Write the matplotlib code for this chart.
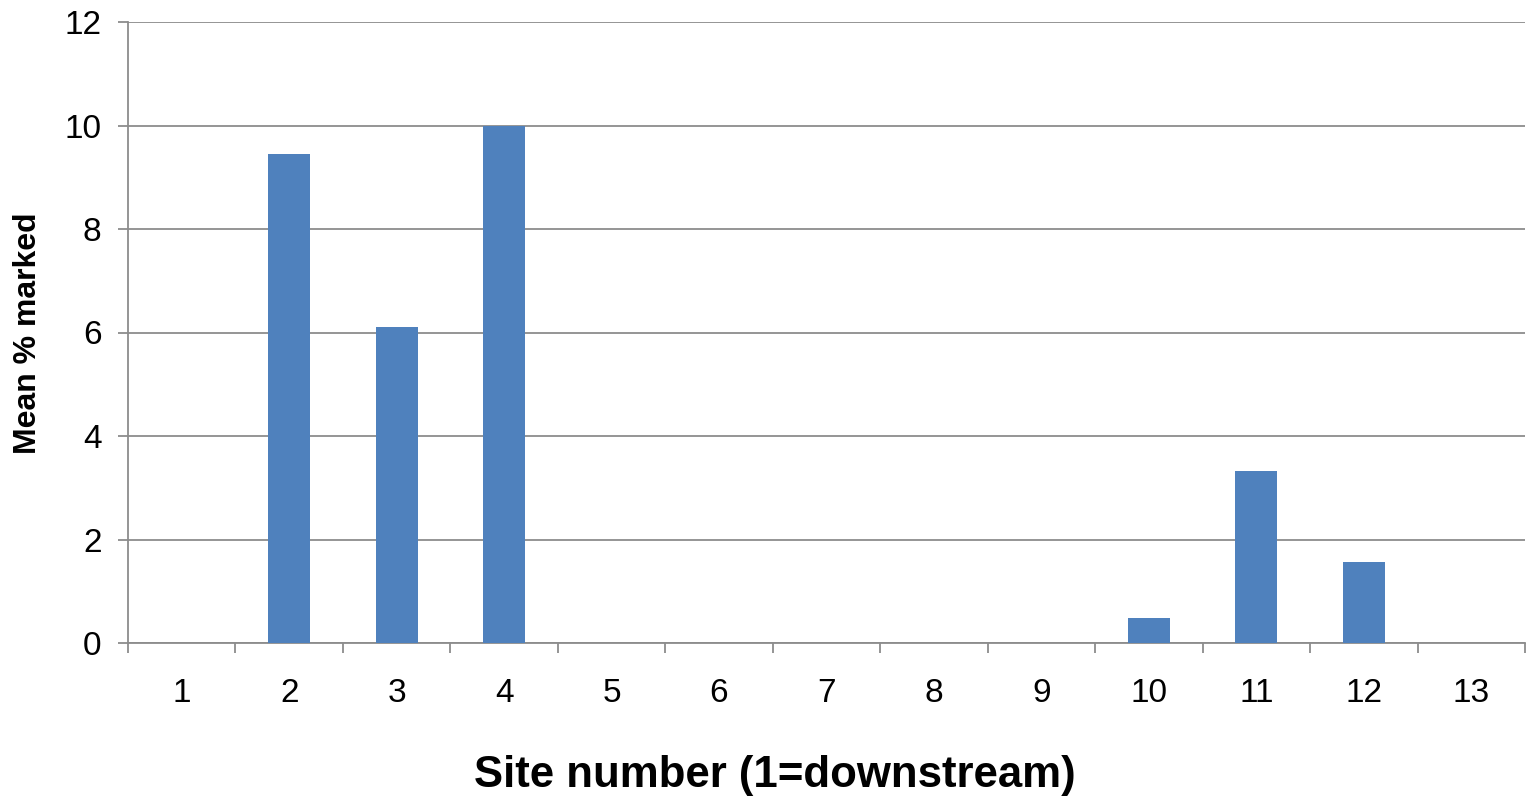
import numpy as np
import matplotlib
matplotlib.use("Agg")
import matplotlib.pyplot as plt

plt.rcParams["font.family"] = ["Liberation Sans", "DejaVu Sans"]

sites = [1, 2, 3, 4, 5, 6, 7, 8, 9, 10, 11, 12, 13]
mean_marked = [0, 9.45, 6.1, 10.0, 0, 0, 0, 0, 0, 0.48, 3.33, 1.56, 0]

bar_color = "#4F81BD"
grid_color = "#8C8C8C"

W, H = 1531, 798
fig = plt.figure(figsize=(W / 100, H / 100), dpi=100)
ax = fig.add_axes([128 / W, 1 - 643 / H, (1525 - 128) / W, (643 - 22) / H])

x = np.arange(len(sites)) + 1
ax.bar(x, mean_marked, width=0.39, color=bar_color, zorder=3)

ax.set_xlim(0.5, len(sites) + 0.5)
ax.set_ylim(0, 12)
ax.set_yticks(np.arange(0, 13, 2))
ax.yaxis.grid(True, color=grid_color, linewidth=1.3, zorder=0)

ax.set_xticks(x)
ax.set_xticklabels([str(s) for s in sites])
ax.set_xticks(np.arange(0.5, len(sites) + 1, 1), minor=True)
ax.tick_params(axis="x", which="major", length=0, pad=25, labelsize=24)
ax.tick_params(axis="x", which="minor", length=7, width=1.3, color=grid_color)
ax.tick_params(axis="y", length=7, width=1.3, color=grid_color, pad=12, labelsize=24)

for side in ["top", "right"]:
    ax.spines[side].set_visible(False)
for side in ["left", "bottom"]:
    ax.spines[side].set_color(grid_color)
    ax.spines[side].set_linewidth(1.3)

# axis titles placed as in the original (x title is not centred on the axes)
fig.text(775 / W, 1 - 775 / H, "Site number (1=downstream)", fontsize=31.5,
         fontweight="bold", ha="center", va="center")
fig.text(28 / W, 1 - 333 / H, "Mean % marked", fontsize=23, fontweight="bold",
         rotation=90, ha="center", va="center")

fig.savefig("out.png", dpi=100)
